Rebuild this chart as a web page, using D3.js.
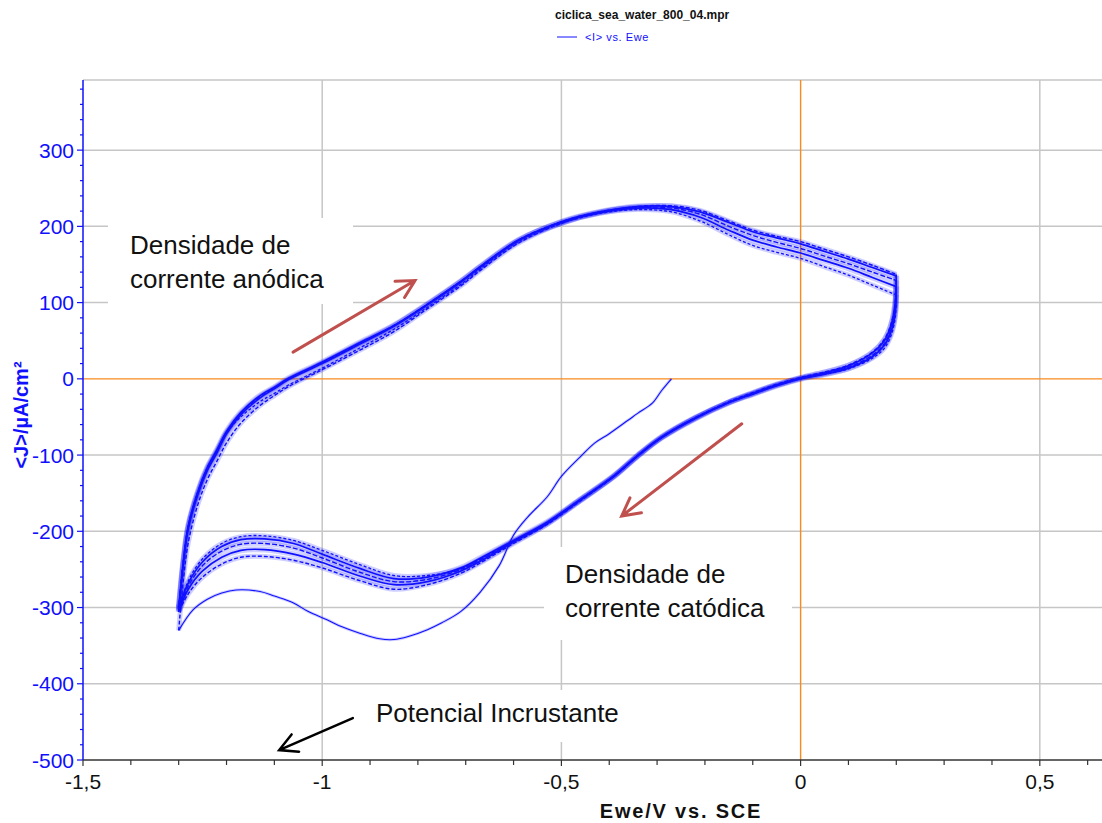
<!DOCTYPE html>
<html>
<head>
<meta charset="utf-8">
<script src="https://cdn.jsdelivr.net/npm/d3@7"></script>
<style>
  html, body { margin: 0; padding: 0; background: #fff; }
  svg { display: block; font-family: "Liberation Sans", Arial, sans-serif; }
</style>
</head>
<body>
<svg id="chart" width="1102" height="823"></svg>
<script>
// Cyclic voltammetry, sea water: potential E (V vs. SCE) and current density J (µA/cm²)

// First sweep from the open-circuit potential towards the cathodic limit
const E_INITIAL = [-0.27, -0.29, -0.31, -0.34, -0.36, -0.40, -0.43, -0.46, -0.50, -0.53, -0.57, -0.60, -0.63, -0.67, -0.71, -0.75, -0.78, -0.82, -0.85, -0.88, -0.92, -0.96, -0.99, -1.03, -1.06, -1.10, -1.13, -1.18, -1.21, -1.24, -1.27, -1.30];
const J_INITIAL = [0, -15, -32, -45, -54, -72, -84, -102, -128, -155, -181, -205, -245, -280, -305, -320, -329, -338, -342, -341, -334, -325, -316, -305, -294, -285, -279, -277, -281, -289, -303, -330];

// Anodic (forward) branches, -1.3 V -> 0.2 V
const E_ANODIC = [-1.30, -1.29, -1.28, -1.26, -1.24, -1.22, -1.20, -1.17, -1.13, -1.10, -1.07, -1.00, -0.92, -0.85, -0.78, -0.71, -0.67, -0.59, -0.50, -0.42, -0.34, -0.27, -0.21, -0.15, -0.10, -0.05, 0.00, 0.05, 0.10, 0.15, 0.20];
const J_ANODIC_1 = [-330, -262, -215, -165, -132, -108, -84, -58, -35, -22, -10, 12, 38, 62, 92, 122, 142, 178, 204, 218, 226, 227, 221, 207, 195, 187, 180, 170, 160, 149, 137];
const J_ANODIC_2 = [-306, -242, -197, -152, -120, -97, -72, -47, -25, -13, -1, 20, 46, 69, 97, 127, 146, 181, 206, 219, 226, 226, 219, 205, 193, 185, 177, 167, 157, 146, 135];
const J_ANODIC_3 = [-304, -240, -195, -150, -118, -95, -70, -45, -23, -12, 0, 21, 47, 70, 98, 128, 147, 182, 206, 219, 225, 224, 216, 200, 188, 179, 171, 161, 151, 140, 129];
const J_ANODIC_4 = [-302, -238, -193, -148, -116, -93, -69, -44, -22, -11, 1, 22, 48, 70, 98, 128, 147, 182, 205, 218, 224, 222, 212, 195, 182, 173, 165, 155, 145, 133, 121];
const J_ANODIC_5 = [-300, -236, -192, -148, -116, -94, -71, -50, -30, -19, -8, 14, 41, 65, 94, 124, 144, 180, 204, 217, 222, 219, 207, 189, 175, 166, 158, 147, 136, 123, 110];

// Cathodic (reverse) branches, 0.2 V -> -1.3 V
const E_CATHODIC = [0.20, 0.199, 0.195, 0.188, 0.175, 0.15, 0.10, 0.05, 0.00, -0.05, -0.10, -0.15, -0.22, -0.29, -0.34, -0.39, -0.46, -0.53, -0.60, -0.66, -0.71, -0.78, -0.85, -0.92, -1.00, -1.06, -1.12, -1.17, -1.21, -1.25, -1.28, -1.30];
const J_CATHODIC_1 = [137, 110, 88, 70, 52, 35, 18, 9, 2, -7, -18, -30, -51, -77, -101, -128, -160, -191, -216, -238, -255, -270, -276, -265, -248, -238, -233, -234, -243, -260, -282, -306];
const J_CATHODIC_2 = [135, 108, 86, 68, 50, 34, 17, 8, 1, -8, -19, -31, -52, -77, -101, -128, -159, -190, -214, -236, -252, -266, -270, -259, -241, -230, -224, -225, -234, -252, -276, -304];
const J_CATHODIC_3 = [129, 102, 80, 63, 46, 31, 15, 7, 1, -8, -19, -31, -51, -76, -100, -127, -158, -189, -213, -234, -250, -263, -266, -254, -235, -222, -216, -217, -226, -245, -272, -302];
const J_CATHODIC_4 = [121, 96, 76, 60, 44, 29, 14, 6, 0, -9, -20, -31, -51, -76, -100, -127, -158, -188, -212, -232, -248, -260, -262, -249, -230, -216, -210, -211, -220, -240, -268, -300];
const J_CATHODIC_5 = [110, 88, 70, 55, 40, 27, 13, 6, 0, -9, -20, -31, -52, -77, -101, -128, -159, -189, -213, -233, -249, -258, -258, -244, -225, -212, -206, -207, -216, -236, -265, -305];

// Axis ticks and labels
const X_TICKS = [-1.5, -1, -0.5, 0, 0.5];
const X_TICK_LABELS = ["-1,5", "-1", "-0,5", "0", "0,5"];
const Y_TICKS = [-500, -400, -300, -200, -100, 0, 100, 200, 300];
const Y_TICK_LABELS = ["-500", "-400", "-300", "-200", "-100", "0", "100", "200", "300"];

// Layout
const W = 1102, H = 823;
const plot = { left: 83, right: 1102, top: 80, bottom: 760 };
const BLUE = "#1010ff";
const ORANGE = "#f98a1e";
const GRID = "#c6c6c6";
const ARROW_RED = "#c0504d";

const svg = d3.select("#chart");
svg.append("rect").attr("width", W).attr("height", H).attr("fill", "#fff");

const x = d3.scaleLinear().domain([-1.5, 0.63]).range([plot.left, plot.right]);
const y = d3.scaleLinear().domain([-500, 392]).range([plot.bottom, plot.top]);

// Grid
const grid = svg.append("g").attr("stroke", GRID).attr("stroke-width", 1.5);
X_TICKS.filter(v => v !== -1.5 && v !== 0).forEach(v => {
  grid.append("line").attr("x1", x(v)).attr("x2", x(v)).attr("y1", plot.top).attr("y2", plot.bottom);
});
Y_TICKS.filter(v => v !== -500 && v !== 0).forEach(v => {
  grid.append("line").attr("x1", plot.left).attr("x2", plot.right).attr("y1", y(v)).attr("y2", y(v));
});
grid.append("line").attr("x1", plot.left).attr("x2", plot.right).attr("y1", plot.top).attr("y2", plot.top);

// Zero lines
svg.append("line").attr("x1", plot.left).attr("x2", plot.right).attr("y1", y(0)).attr("y2", y(0))
  .attr("stroke", ORANGE).attr("stroke-width", 1.4);
svg.append("line").attr("x1", x(0)).attr("x2", x(0)).attr("y1", plot.top).attr("y2", plot.bottom)
  .attr("stroke", ORANGE).attr("stroke-width", 1.4);

// White backgrounds behind annotation texts
const boxes = [
  { x: 108, y: 218, w: 245, h: 86 },
  { x: 544, y: 547, w: 248, h: 93 },
  { x: 365, y: 690, w: 285, h: 52 }
];
svg.append("g").selectAll("rect").data(boxes).join("rect")
  .attr("x", d => d.x).attr("y", d => d.y).attr("width", d => d.w).attr("height", d => d.h)
  .attr("fill", "#fff");

// Curves
const line = d3.line()
  .x(d => x(d[0]))
  .y(d => y(d[1]))
  .curve(d3.curveCatmullRom.alpha(0.5));

const zip = (es, js) => es.map((e, i) => [e, js[i]]);

const sweeps = [
  { pts: zip(E_INITIAL, J_INITIAL), w: 1.1, dash: null, halo: 3 },
  { pts: zip(E_ANODIC, J_ANODIC_1), w: 1.4, dash: "4,2", halo: 5 },
  { pts: zip(E_CATHODIC, J_CATHODIC_1), w: 1.4, dash: "4,2", halo: 5 },
  { pts: zip(E_ANODIC, J_ANODIC_2), w: 1.7, dash: null, halo: 6 },
  { pts: zip(E_CATHODIC, J_CATHODIC_2), w: 1.7, dash: null, halo: 6 },
  { pts: zip(E_ANODIC, J_ANODIC_3), w: 1.4, dash: "5,2", halo: 5 },
  { pts: zip(E_CATHODIC, J_CATHODIC_3), w: 1.4, dash: "5,2", halo: 5 },
  { pts: zip(E_ANODIC, J_ANODIC_4), w: 1.7, dash: null, halo: 6 },
  { pts: zip(E_CATHODIC, J_CATHODIC_4), w: 1.7, dash: null, halo: 6 },
  { pts: zip(E_ANODIC, J_ANODIC_5), w: 1.3, dash: "3,2", halo: 5 },
  { pts: zip(E_CATHODIC, J_CATHODIC_5), w: 1.3, dash: "3,2", halo: 5 }
];

// faint wide underlay gives the noisy traces their band thickness
const curveG = svg.append("g").attr("fill", "none").attr("stroke-linejoin", "round");
curveG.selectAll("path.halo").data(sweeps).join("path").attr("class", "halo")
  .attr("d", d => line(d.pts))
  .attr("stroke", BLUE).attr("stroke-opacity", 0.2)
  .attr("stroke-width", d => d.halo);
curveG.selectAll("path.trace").data(sweeps).join("path").attr("class", "trace")
  .attr("d", d => line(d.pts))
  .attr("stroke", BLUE)
  .attr("stroke-width", d => d.w)
  .attr("stroke-dasharray", d => d.dash);

// Left axis
const yAxisG = svg.append("g");
yAxisG.append("line").attr("x1", plot.left).attr("x2", plot.left).attr("y1", plot.top).attr("y2", plot.bottom)
  .attr("stroke", BLUE).attr("stroke-width", 1.5);
const yMinor = d3.range(-500, 392, 20).filter(v => v % 100 !== 0);
yAxisG.selectAll("line.minor").data(yMinor).join("line").attr("class", "minor")
  .attr("x1", plot.left - 3).attr("x2", plot.left).attr("y1", d => y(d)).attr("y2", d => y(d))
  .attr("stroke", BLUE).attr("stroke-width", 1.2);
yAxisG.selectAll("line.major").data(Y_TICKS).join("line").attr("class", "major")
  .attr("x1", plot.left - 6).attr("x2", plot.left).attr("y1", d => y(d)).attr("y2", d => y(d))
  .attr("stroke", BLUE).attr("stroke-width", 1.2);
yAxisG.selectAll("text").data(Y_TICKS).join("text")
  .attr("x", plot.left - 9).attr("y", d => y(d)).attr("dy", "0.36em")
  .attr("text-anchor", "end").attr("fill", BLUE).attr("font-size", 21)
  .text((d, i) => Y_TICK_LABELS[i]);

// Bottom axis
const xAxisG = svg.append("g");
xAxisG.append("line").attr("x1", plot.left).attr("x2", plot.right).attr("y1", plot.bottom).attr("y2", plot.bottom)
  .attr("stroke", "#333").attr("stroke-width", 1.5);
const xMinor = d3.range(-15, 7).map(k => k / 10).filter(v => Math.abs(v * 2 - Math.round(v * 2)) > 1e-6);
xAxisG.selectAll("line.minor").data(xMinor).join("line").attr("class", "minor")
  .attr("x1", d => x(d)).attr("x2", d => x(d)).attr("y1", plot.bottom).attr("y2", plot.bottom + 5)
  .attr("stroke", "#333").attr("stroke-width", 1.2);
xAxisG.selectAll("line.major").data(X_TICKS).join("line").attr("class", "major")
  .attr("x1", d => x(d)).attr("x2", d => x(d)).attr("y1", plot.bottom).attr("y2", plot.bottom + 6)
  .attr("stroke", "#333").attr("stroke-width", 1.2);
xAxisG.selectAll("text").data(X_TICKS).join("text")
  .attr("x", d => x(d)).attr("y", 789)
  .attr("text-anchor", "middle").attr("fill", "#111").attr("font-size", 21)
  .text((d, i) => X_TICK_LABELS[i]);

// Axis titles
svg.append("text")
  .attr("transform", "translate(28,415) rotate(-90)")
  .attr("text-anchor", "middle").attr("fill", BLUE)
  .attr("font-size", 20).attr("font-weight", "bold")
  .text("<J>/µA/cm²");
svg.append("text")
  .attr("x", 681).attr("y", 818)
  .attr("text-anchor", "middle").attr("fill", "#111")
  .attr("font-size", 20).attr("font-weight", "bold").attr("letter-spacing", 1.8)
  .text("Ewe/V vs. SCE");

// Title and legend
svg.append("text").attr("x", 555).attr("y", 19)
  .attr("font-size", 12).attr("font-weight", "bold").attr("fill", "#111")
  .text("ciclica_sea_water_800_04.mpr");
svg.append("line").attr("x1", 557).attr("x2", 577).attr("y1", 37).attr("y2", 37)
  .attr("stroke", BLUE).attr("stroke-width", 1);
svg.append("text").attr("x", 585).attr("y", 41)
  .attr("font-size", 11).attr("fill", BLUE).attr("letter-spacing", 0.6)
  .text("<I> vs. Ewe");

// Annotation arrows (defined in data coordinates)
const arrows = [
  { from: [-1.061, 35], to: [-0.806, 129], color: ARROW_RED, w: 3, head: 20 },
  { from: [-0.123, -59], to: [-0.374, -180], color: ARROW_RED, w: 3, head: 20 },
  { from: [-0.936, -445], to: [-1.090, -487], color: "#000", w: 2.5, head: 20 }
];
const arrowG = svg.append("g").attr("fill", "none").attr("stroke-linecap", "round");
arrows.forEach(a => {
  const x0 = x(a.from[0]), y0 = y(a.from[1]);
  const x1 = x(a.to[0]), y1 = y(a.to[1]);
  const ang = Math.atan2(y0 - y1, x0 - x1);
  const spread = 28 * Math.PI / 180;
  const b1 = [x1 + a.head * Math.cos(ang + spread), y1 + a.head * Math.sin(ang + spread)];
  const b2 = [x1 + a.head * Math.cos(ang - spread), y1 + a.head * Math.sin(ang - spread)];
  arrowG.append("path")
    .attr("d", `M${x0},${y0}L${x1},${y1}M${b1[0]},${b1[1]}L${x1},${y1}L${b2[0]},${b2[1]}`)
    .attr("stroke", a.color).attr("stroke-width", a.w).attr("stroke-linejoin", "miter");
});

// Annotation texts
const notes = [
  { x: 130, y: 254, lines: ["Densidade de", "corrente anódica"] },
  { x: 565, y: 583, lines: ["Densidade de", "corrente catódica"] },
  { x: 376, y: 722, lines: ["Potencial Incrustante"] }
];
notes.forEach(n => {
  const t = svg.append("text").attr("x", n.x).attr("y", n.y)
    .attr("font-size", 26).attr("fill", "#111");
  n.lines.forEach((s, i) => {
    t.append("tspan").attr("x", n.x).attr("dy", i === 0 ? 0 : 34).text(s);
  });
});
</script>
</body>
</html>
